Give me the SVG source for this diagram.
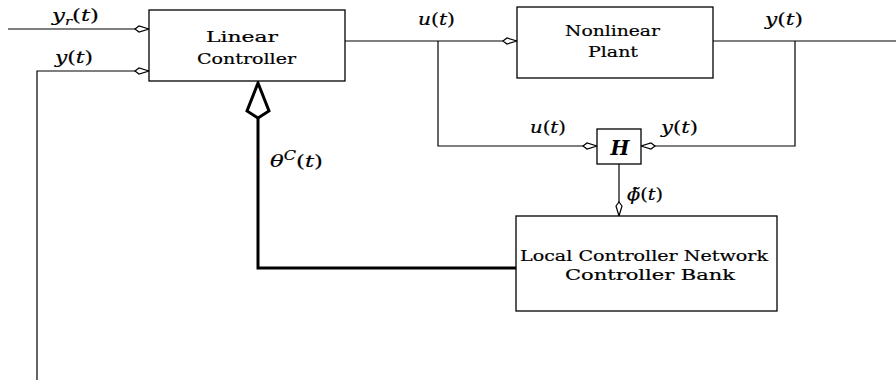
<svg xmlns="http://www.w3.org/2000/svg" width="896" height="380" viewBox="0 0 896 380">
<style>
.box{fill:#fff;stroke:#000;stroke-width:1.3}
.wire{fill:none;stroke:#000;stroke-width:1.2}
.thick{fill:none;stroke:#000;stroke-width:3}
.lbl{font-family:'DejaVu Serif','Liberation Serif',serif;font-size:15px;fill:#000;stroke:#000;stroke-width:0.2;text-anchor:middle}
.math{font-family:'DejaVu Serif','Liberation Serif',serif;font-size:17px;font-style:italic;fill:#000;stroke:#000;stroke-width:0.2}
</style>
<defs>
<marker id="arr" viewBox="-16 -5 18 10" refX="0" refY="0" markerWidth="18" markerHeight="10" orient="auto" markerUnits="userSpaceOnUse" overflow="visible">
<path d="M0,0 L-10,-3 L-14,0 L-10,3 Z" fill="#fff" stroke="#000" stroke-width="1.2"/>
</marker>
</defs>
<g id="connectors">
<path class="wire" d="M8,29 H149" marker-end="url(#arr)"/>
<path class="wire" d="M37,380 V71 H149" marker-end="url(#arr)"/>
<path class="wire" d="M345,41 H517" marker-end="url(#arr)"/>
<path class="wire" d="M438,41 V146 H597" marker-end="url(#arr)"/>
<path class="wire" d="M713,41 H896"/>
<path class="wire" d="M795,41 V146 H641" marker-end="url(#arr)"/>
<path class="wire" d="M619,164 V216" marker-end="url(#arr)"/>
<path class="thick" d="M516,268 H258 V116"/>
<polygon points="258,83 247,111 258,118 269,111" fill="#fff" stroke="#000" stroke-width="3" stroke-linejoin="miter"/>
</g>
<g id="linear-controller">
<rect class="box" x="149" y="10" width="196" height="71"/>
<text class="lbl" x="242" y="42" textLength="72" lengthAdjust="spacingAndGlyphs">Linear</text>
<text class="lbl" x="246.5" y="64" textLength="99" lengthAdjust="spacingAndGlyphs">Controller</text>
</g>
<g id="nonlinear-plant">
<rect class="box" x="517" y="7" width="196" height="71"/>
<text class="lbl" x="612.5" y="36" textLength="95" lengthAdjust="spacingAndGlyphs">Nonlinear</text>
<text class="lbl" x="613" y="57" textLength="50" lengthAdjust="spacingAndGlyphs">Plant</text>
</g>
<g id="h-block">
<rect class="box" x="597" y="129" width="44" height="35"/>
<text x="620" y="155" text-anchor="middle" font-family="'DejaVu Serif', 'Liberation Serif', serif" font-size="20" font-style="italic" font-weight="bold">H</text>
</g>
<g id="local-controller-network">
<rect class="box" x="516" y="216" width="261" height="95"/>
<text class="lbl" x="644" y="261" textLength="248" lengthAdjust="spacingAndGlyphs">Local Controller Network</text>
<text class="lbl" x="650" y="280" textLength="170" lengthAdjust="spacingAndGlyphs">Controller Bank</text>
</g>
<g id="labels">
<text class="math" x="52" y="21" textLength="47" lengthAdjust="spacingAndGlyphs">y<tspan font-size="11" dy="4">r</tspan><tspan dy="-4" font-style="normal">(</tspan>t<tspan font-style="normal">)</tspan></text>
<text class="math" x="55" y="63" textLength="38" lengthAdjust="spacingAndGlyphs">y<tspan font-style="normal">(</tspan>t<tspan font-style="normal">)</tspan></text>
<text class="math" x="418" y="25" textLength="37" lengthAdjust="spacingAndGlyphs">u<tspan font-style="normal">(</tspan>t<tspan font-style="normal">)</tspan></text>
<text class="math" x="765" y="25" textLength="38" lengthAdjust="spacingAndGlyphs">y<tspan font-style="normal">(</tspan>t<tspan font-style="normal">)</tspan></text>
<text class="math" x="530" y="133" textLength="36" lengthAdjust="spacingAndGlyphs">u<tspan font-style="normal">(</tspan>t<tspan font-style="normal">)</tspan></text>
<text class="math" x="661" y="133" textLength="37" lengthAdjust="spacingAndGlyphs">y<tspan font-style="normal">(</tspan>t<tspan font-style="normal">)</tspan></text>
<text class="math" x="270" y="167" textLength="53" lengthAdjust="spacingAndGlyphs">θ<tspan font-size="12" dy="-7">C</tspan><tspan dy="7" font-style="normal">(</tspan>t<tspan font-style="normal">)</tspan></text>
<text class="math" x="627" y="200" textLength="36" lengthAdjust="spacingAndGlyphs">ϕ̃<tspan font-style="normal">(</tspan>t<tspan font-style="normal">)</tspan></text>
</g>
</svg>
